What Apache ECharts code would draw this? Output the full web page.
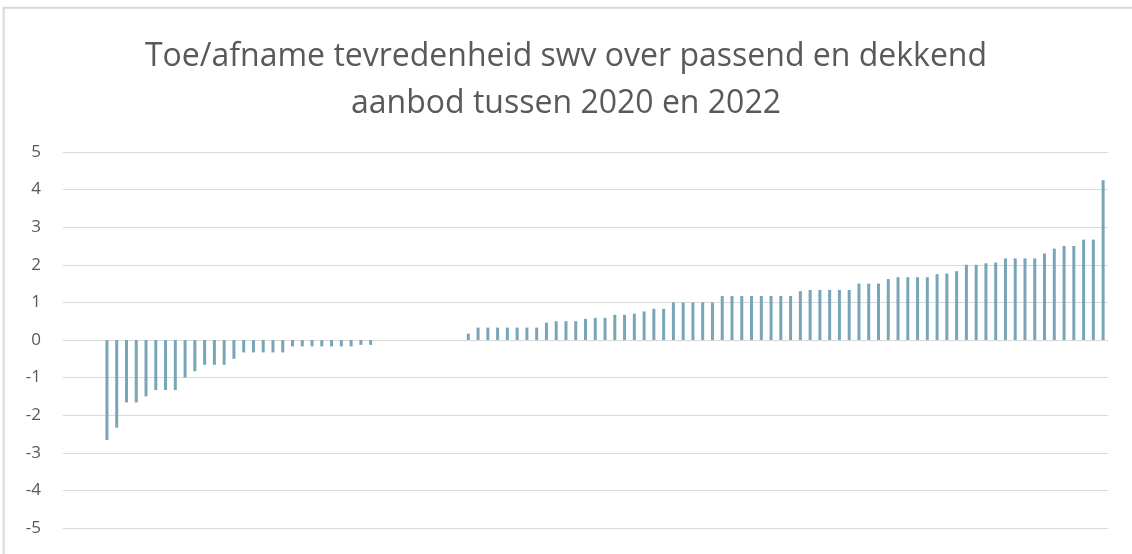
<!DOCTYPE html>
<html>
<head>
    <meta charset="UTF-8">
    <title>Toe/afname tevredenheid swv</title>
    <script src="https://cdn.jsdelivr.net/npm/echarts/dist/echarts.min.js"></script>
    <style>
        html, body { margin: 0; padding: 0; background: #fff; }
        #main { width: 1132px; height: 554px; }
    </style>
</head>
<body>
    <div id="main"></div>
    <script type="text/javascript">
        // lege plekken vooraan, afnames, gelijk gebleven, toenames
        const leeg = [null, null, null, null];
        const afname = [-2.66, -2.33, -1.66, -1.66, -1.5, -1.33, -1.33, -1.33, -1.0, -0.83,
            -0.66, -0.66, -0.66, -0.5, -0.33, -0.33, -0.33, -0.33, -0.33,
            -0.17, -0.17, -0.17, -0.17, -0.17, -0.17, -0.17, -0.13, -0.13];
        const gelijk = [0, 0, 0, 0, 0, 0, 0, 0, 0];
        const toename = [0.17, 0.33, 0.33, 0.33, 0.33, 0.33, 0.33, 0.33, 0.46, 0.5, 0.5, 0.5,
            0.56, 0.59, 0.59, 0.67, 0.67, 0.7, 0.76, 0.83, 0.83,
            1.0, 1.0, 1.0, 1.0, 1.0,
            1.17, 1.17, 1.17, 1.17, 1.17, 1.17, 1.17, 1.17,
            1.3, 1.33, 1.33, 1.33, 1.33, 1.33, 1.5, 1.5, 1.5,
            1.62, 1.67, 1.67, 1.67, 1.67, 1.75, 1.77, 1.83,
            2.0, 2.0, 2.04, 2.06, 2.17, 2.17, 2.17, 2.17,
            2.3, 2.43, 2.5, 2.5, 2.67, 2.67, 4.25];
        const yTicks = [-5, 5, 1]; // min, max, interval

        const values = [...leeg, ...afname, ...gelijk, ...toename];
        const categories = values.map((v, i) => String(i + 1));

        let chart = echarts.init(document.getElementById('main'));

        let option = {
            animation: false,
            backgroundColor: '#ffffff',
            textStyle: { fontFamily: 'Open Sans' },
            graphic: [{
                type: 'rect',
                shape: { x: 3.7, y: 7.7, width: 1300, height: 700 },
                style: { fill: 'none', stroke: '#d9d9d9', lineWidth: 2 },
                silent: true
            }],
            title: {
                text: 'Toe/afname tevredenheid swv over passend en dekkend\naanbod tussen 2020 en 2022',
                left: 'center',
                top: 28,
                textStyle: {
                    fontFamily: 'Open Sans',
                    fontWeight: 'normal',
                    fontSize: 32,
                    lineHeight: 47,
                    color: '#595959'
                }
            },
            grid: {
                left: 63,
                right: 24,
                top: 152,
                bottom: 26
            },
            xAxis: {
                type: 'category',
                data: categories,
                axisLine: { show: true, onZero: true, lineStyle: { color: '#d9d9d9', width: 1 } },
                axisTick: { show: false },
                axisLabel: { show: false },
                splitLine: { show: false }
            },
            yAxis: {
                type: 'value',
                min: yTicks[0],
                max: yTicks[1],
                interval: yTicks[2],
                axisLine: { show: false },
                axisTick: { show: false },
                axisLabel: {
                    color: '#595959',
                    fontSize: 17,
                    fontFamily: 'Open Sans',
                    margin: 22
                },
                splitLine: { lineStyle: { color: '#d9d9d9', width: 1 } }
            },
            series: [{
                type: 'bar',
                data: values,
                barWidth: 3,
                itemStyle: { color: '#79a5b9' }
            }]
        };

        chart.setOption(option);
    </script>
</body>
</html>
